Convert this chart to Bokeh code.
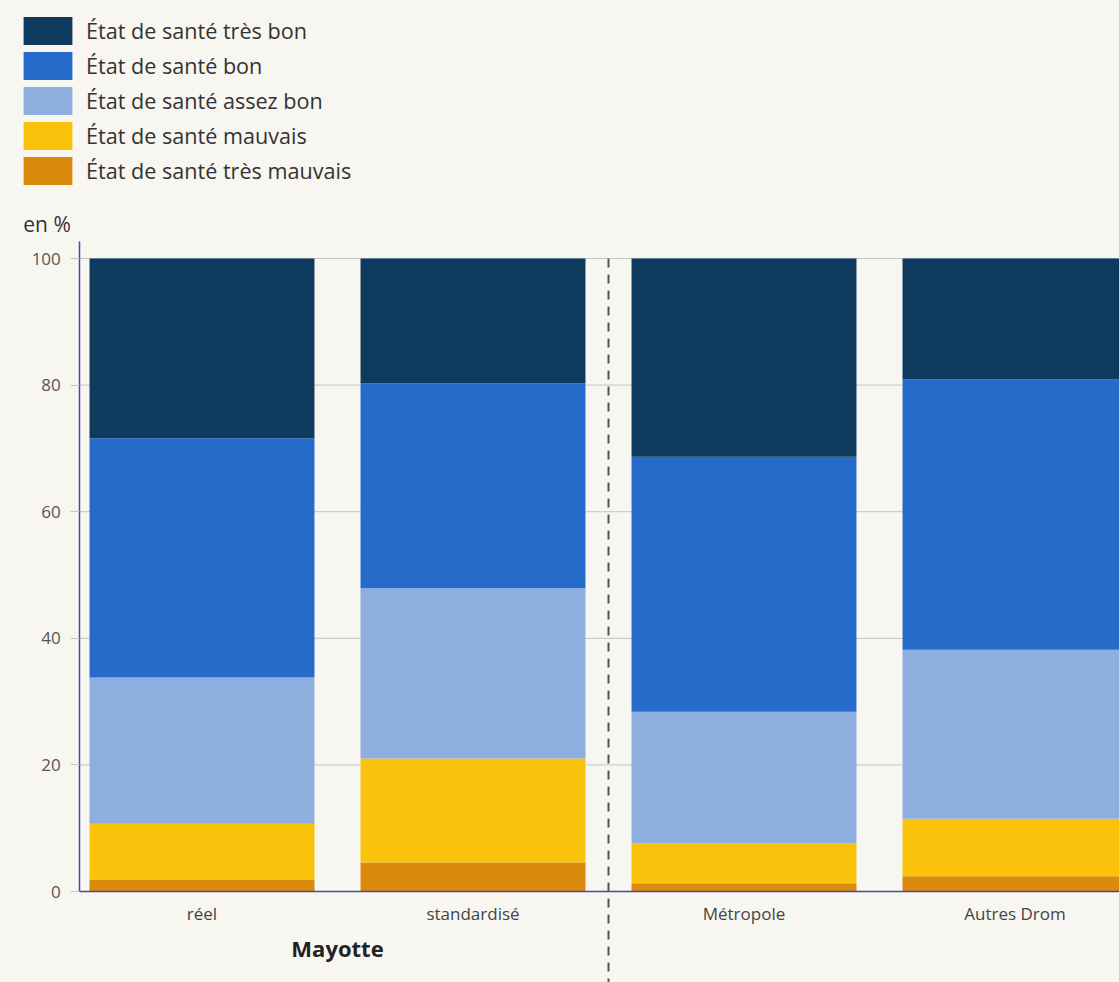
from bokeh.plotting import figure
from bokeh.models import (ColumnDataSource, Legend, LegendItem, LinearAxis, FixedTicker,
                          Label, Range1d)
from bokeh.embed import file_html
from bokeh.resources import INLINE

categories = ["réel", "standardisé", "Métropole", "Autres Drom"]
group_label = "Mayotte"
tres_mauvais = [1.9, 4.6, 1.3, 2.4]
mauvais = [8.8, 16.4, 6.3, 9.1]
assez_bon = [23.1, 26.9, 20.8, 26.7]
bon = [37.8, 32.4, 40.3, 42.7]
tres_bon = [28.4, 19.7, 31.3, 19.1]
series_labels = ["État de santé très mauvais", "État de santé mauvais",
                 "État de santé assez bon", "État de santé bon", "État de santé très bon"]
colors = ["#da8a0c", "#fbc20b", "#8daedf", "#266bc9", "#0d3a5d"]
y_ticks = [0, 20, 40, 60, 80, 100]

BG = "#f8f6f1"
FONT = "Open Sans"
AXIS_BLUE = "#4848a8"
W, H = 1119, 982

# layout helpers (pixels per data unit)
PX_X = 271.0
PX_Y = 6.33
x_start, x_end = -201.5 / PX_X, 3 + (W - 1014.5) / PX_X
y_axis_loc = -(201.5 - 79.3) / PX_X
y_start, y_end = -(H - 891) / PX_Y, 891 / PX_Y

x = list(range(len(categories)))
keys = ["tm", "m", "ab", "b", "tb"]
source = ColumnDataSource(dict(x=x, tm=tres_mauvais, m=mauvais, ab=assez_bon, b=bon, tb=tres_bon))

p = figure(width=W, height=H, output_backend="svg", toolbar_location=None,
           x_range=Range1d(x_start, x_end), y_range=Range1d(y_start, y_end),
           min_border=0, min_border_left=0, min_border_right=0,
           min_border_top=0, min_border_bottom=0)
p.background_fill_color = BG
p.border_fill_color = BG
p.outline_line_color = None
p.grid.visible = False

# gridlines (manual so they start at the axis)
p.segment(x0=[y_axis_loc] * 5, x1=[x_end] * 5, y0=y_ticks[1:], y1=y_ticks[1:],
          line_color="#c4c4c4", line_width=1, level="underlay")

renderers = p.vbar_stack(keys, x="x", width=0.83, color=colors, source=source,
                         line_color=None)

# separator between Mayotte and the others
sep_x = (x[1] + x[2]) / 2
p.segment(x0=[sep_x], x1=[sep_x], y0=[100], y1=[y_start], line_color="#555555",
          line_width=2, line_dash="9 7")

# y axis
ya = p.yaxis[0]
ya.fixed_location = y_axis_loc
ya.ticker = FixedTicker(ticks=y_ticks)
ya.minor_tick_line_color = None
ya.major_tick_in = 0
ya.major_tick_out = 9
ya.major_tick_line_color = "#c4c4c4"
ya.axis_line_color = AXIS_BLUE
ya.axis_line_width = 1.5
ya.bounds = (0, 102.7)
ya.major_label_text_font = FONT
ya.major_label_text_font_size = "17px"
ya.major_label_text_color = "#555555"
ya.major_label_standoff = 10

# x axis at y = 0
xa = p.xaxis[0]
xa.fixed_location = 0
xa.ticker = FixedTicker(ticks=x)
xa.major_label_overrides = {i: c for i, c in zip(x, categories)}
xa.major_tick_line_color = None
xa.minor_tick_line_color = None
xa.axis_line_color = AXIS_BLUE
xa.axis_line_width = 1.5
xa.bounds = (y_axis_loc, x_end)
xa.major_label_text_font = FONT
xa.major_label_text_font_size = "17px"
xa.major_label_text_color = "#444444"
xa.major_label_standoff = 4

# group label axis
g_pos = (x[0] + x[1]) / 2
ga = LinearAxis(fixed_location=0, ticker=FixedTicker(ticks=[g_pos]),
                major_label_overrides={g_pos: group_label})
ga.axis_line_color = None
ga.major_tick_line_color = None
ga.minor_tick_line_color = None
ga.major_label_text_font = FONT
ga.major_label_text_font_size = "22px"
ga.major_label_text_font_style = "bold"
ga.major_label_text_color = "#222222"
ga.major_label_standoff = 35
p.add_layout(ga, "below")

# unit label
p.add_layout(Label(x=y_axis_loc - 9 / PX_X, y=(891 - 223) / PX_Y, text="en %",
                   text_align="right", text_baseline="middle", text_font=FONT,
                   text_font_size="21px", text_color="#333333"))

# legend
gh, sp = 35, 0
items = [LegendItem(label=lab, renderers=[r]) for lab, r in zip(series_labels, renderers)][::-1]
leg_h = 5 * gh + 4 * sp
legend = Legend(items=items, location=(17, H - 13 - leg_h), orientation="vertical",
                glyph_width=61, glyph_height=gh, spacing=sp, padding=0, margin=0,
                label_standoff=8, label_text_font=FONT, label_text_font_size="21.6px",
                label_text_color="#333333", border_line_color=None,
                background_fill_alpha=0, label_height=gh)
p.add_layout(legend, "center")

html = file_html(p, INLINE)
html = html.replace("<body>", '<body style="background:%s">' % BG, 1)
open("out.html", "w").write(html)
